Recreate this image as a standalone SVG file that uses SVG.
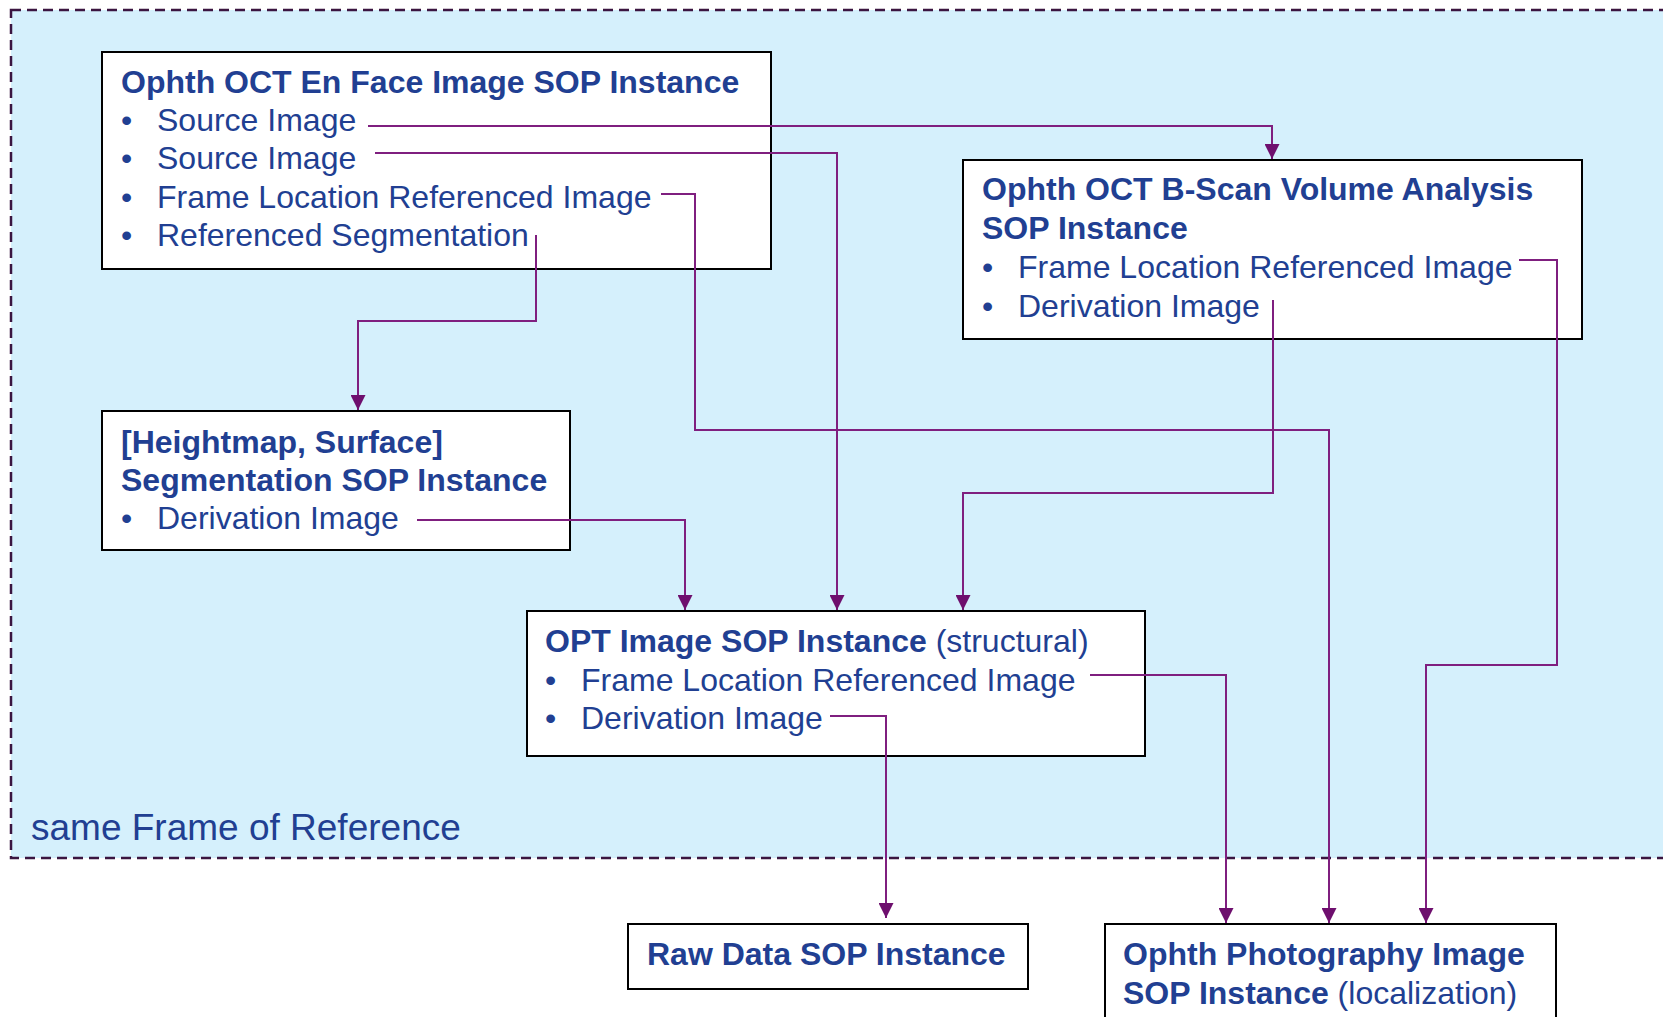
<svg xmlns="http://www.w3.org/2000/svg" width="1663" height="1017" viewBox="0 0 1663 1017">
<defs>
<style>
.frame{fill:#D5F0FC;stroke:#3B1540;stroke-width:2.5;stroke-dasharray:10 6}
.box{fill:#FFFFFF;stroke:#000000;stroke-width:2}
.t{font-family:"Liberation Sans",Arial,sans-serif;font-size:32px;fill:#213F92}
.b{font-weight:bold}
.fr{font-family:"Liberation Sans",Arial,sans-serif;font-size:37px;fill:#213F92}
.c{fill:none;stroke:#7F1F7F;stroke-width:2}
</style>
<marker id="arr" markerWidth="15" markerHeight="15" viewBox="0 0 15 15" refX="15" refY="7.5" orient="auto" markerUnits="userSpaceOnUse">
<path d="M0,0 L15,7.5 L0,15 Z" fill="#6E0F6E"/>
</marker>
</defs>
<rect width="1663" height="1017" fill="#FFFFFF"/>
<g id="frame">
<rect class="frame" x="11" y="10" width="1700" height="848"/>
<text class="fr" x="31" y="840">same Frame of Reference</text>
</g>
<g id="enface">
<rect class="box" x="102" y="52" width="669" height="217"/>
<text class="t b" x="121" y="93">Ophth OCT En Face Image SOP Instance</text>
<text class="t" x="121" y="131">•</text><text class="t" x="157" y="131">Source Image</text>
<text class="t" x="121" y="169">•</text><text class="t" x="157" y="169">Source Image</text>
<text class="t" x="121" y="208">•</text><text class="t" x="157" y="208">Frame Location Referenced Image</text>
<text class="t" x="121" y="246">•</text><text class="t" x="157" y="246">Referenced Segmentation</text>
</g>
<g id="bscan">
<rect class="box" x="963" y="160" width="619" height="179"/>
<text class="t b" x="982" y="200">Ophth OCT B-Scan Volume Analysis</text>
<text class="t b" x="982" y="239">SOP Instance</text>
<text class="t" x="982" y="278">•</text><text class="t" x="1018" y="278">Frame Location Referenced Image</text>
<text class="t" x="982" y="317">•</text><text class="t" x="1018" y="317">Derivation Image</text>
</g>
<g id="segmentation">
<rect class="box" x="102" y="411" width="468" height="139"/>
<text class="t b" x="121" y="453">[Heightmap, Surface]</text>
<text class="t b" x="121" y="491">Segmentation SOP Instance</text>
<text class="t" x="121" y="529">•</text><text class="t" x="157" y="529">Derivation Image</text>
</g>
<g id="opt">
<rect class="box" x="527" y="611" width="618" height="145"/>
<text class="t" x="545" y="652"><tspan class="b">OPT Image SOP Instance</tspan> (structural)</text>
<text class="t" x="545" y="691">•</text><text class="t" x="581" y="691">Frame Location Referenced Image</text>
<text class="t" x="545" y="729">•</text><text class="t" x="581" y="729">Derivation Image</text>
</g>
<g id="rawdata">
<rect class="box" x="628" y="924" width="400" height="65"/>
<text class="t b" x="647" y="965">Raw Data SOP Instance</text>
</g>
<g id="photo">
<rect class="box" x="1105" y="924" width="451" height="110"/>
<text class="t b" x="1123" y="965">Ophth Photography Image</text>
<text class="t" x="1123" y="1004"><tspan class="b">SOP Instance</tspan> (localization)</text>
</g>
<g id="connectors">
<path class="c" marker-end="url(#arr)" d="M368,126 H1272 V159"/>
<path class="c" marker-end="url(#arr)" d="M375,153 H837 V610"/>
<path class="c" marker-end="url(#arr)" d="M661,194 H695 V430 H1329 V923"/>
<path class="c" marker-end="url(#arr)" d="M536,235 V321 H358 V410"/>
<path class="c" marker-end="url(#arr)" d="M1519,260 H1557 V665 H1426 V923"/>
<path class="c" marker-end="url(#arr)" d="M1273,300 V493 H963 V610"/>
<path class="c" marker-end="url(#arr)" d="M417,520 H685 V610"/>
<path class="c" marker-end="url(#arr)" d="M1090,675 H1226 V923"/>
<path class="c" marker-end="url(#arr)" d="M830,716 H886 V918"/>
</g>
</svg>
